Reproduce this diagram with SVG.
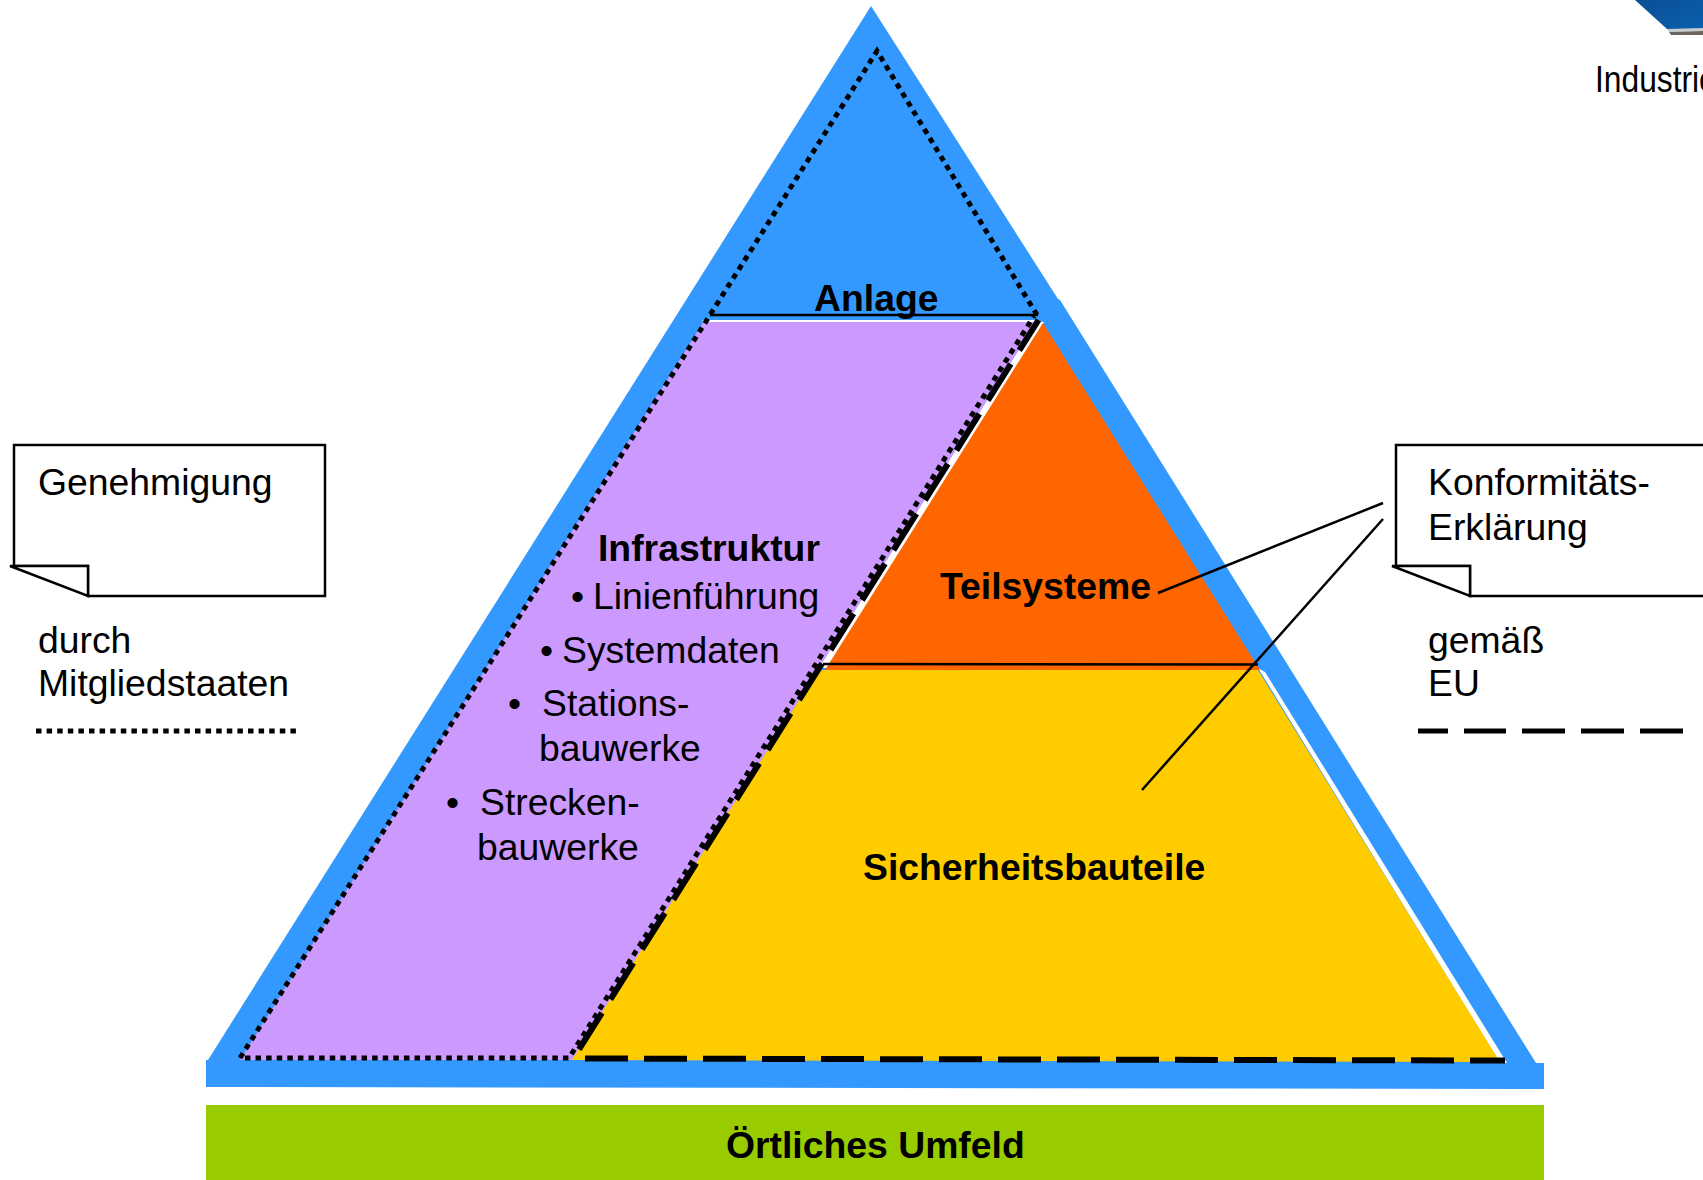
<svg xmlns="http://www.w3.org/2000/svg" width="1703" height="1180" viewBox="0 0 1703 1180">
<style>
text{font-family:"Liberation Sans",Arial,Helvetica,sans-serif;font-size:37.35px;fill:#000}
.b{font-weight:bold}
.note{fill:#fff;stroke:#000;stroke-width:2.5;stroke-linejoin:miter}
.thin{fill:none;stroke:#000;stroke-width:2.5}
.dot{fill:none;stroke:#000;stroke-width:5;stroke-dasharray:5.5 5.1}
.dash{fill:none;stroke:#000;stroke-width:6;stroke-dasharray:43 16}
</style>
<defs>
<linearGradient id="logoBlue" x1="0" y1="0" x2="1" y2="1"><stop offset="0" stop-color="#0a4f96"/><stop offset="1" stop-color="#0b5fae"/></linearGradient>
</defs>
<rect width="1703" height="1180" fill="#fff"/>

<g id="logo">
<polygon points="1635,0 1703,0 1703,29 1667,29" fill="url(#logoBlue)"/>
<polygon points="1667,29 1703,28 1703,31 1669,32" fill="#c8ccd2"/>
<polygon points="1669,32 1703,31 1703,35 1671,35" fill="#6a655e"/>
<text transform="translate(1595,92) scale(.85,1)">Industrie</text>
</g>

<g id="pyramid-frame">
<polygon points="871,6 1058,299 1060,300 1536,1063 1544,1063 1544,1089 206,1087 206,1060 208,1060" fill="#3399ff"/>
</g>

<g id="anlage">
<text class="b" x="814" y="311">Anlage</text>
</g>

<g id="infrastruktur">
<polygon points="704,321 1037,321 573,1060 240,1060" fill="#cc99ff"/>
<polygon points="703,320 1040,320 1037,322 702,322" fill="#fff"/>
<text class="b" x="598" y="561">Infrastruktur</text>
<text x="571" y="609">•</text><text x="593" y="609">Linienführung</text>
<text x="540" y="663">•</text><text x="562" y="663">Systemdaten</text>
<text x="508" y="716">•</text><text x="542" y="716">Stations-</text>
<text x="539" y="761">bauwerke</text>
<text x="446" y="815">•</text><text x="480" y="815">Strecken-</text>
<text x="477" y="860">bauwerke</text>
</g>

<g id="gap">
<polygon points="1037,321 1044,322 828,668 819,668" fill="#fff"/>
<polygon points="1258,668 1265,672 1507,1063 1500,1063" fill="#fff"/>
</g>

<g id="teilsysteme">
<polygon points="1043,323 1260,670 825,670" fill="#ff6600"/>
<text class="b" x="940" y="599">Teilsysteme</text>
</g>

<g id="sicherheitsbauteile">
<polygon points="818,670 1258,670 1500,1062 572,1060" fill="#ffcc00"/>
<text class="b" x="863" y="880">Sicherheitsbauteile</text>
</g>

<g id="umfeld">
<rect x="206" y="1105" width="1338" height="75" fill="#99cc00"/>
<text class="b" x="726" y="1158">Örtliches Umfeld</text>
</g>

<g id="connectors">
<line class="thin" x1="710" y1="315" x2="1038" y2="315"/>
<line class="thin" x1="823" y1="664" x2="1258" y2="664.5"/>
<path class="dot" d="M1037,315 L877,51 L240,1058 L569,1058 L1034,316"/>
<line class="dash" style="stroke-dashoffset:7" x1="1038.5" y1="320" x2="573.5" y2="1058"/>
<line class="dash" x1="585" y1="1058.5" x2="1505" y2="1060.5"/>
<line class="thin" x1="1158" y1="593" x2="1383" y2="503"/>
<line class="thin" x1="1142" y1="790" x2="1383" y2="519"/>
</g>

<g id="note-genehmigung">
<path class="note" d="M14,445 H325 V596 H88 V566 H14 Z"/>
<path class="note" d="M10,566 H88 V596 Z"/>
<text x="38" y="495">Genehmigung</text>
<text x="38" y="653">durch</text>
<text x="38" y="696">Mitgliedstaaten</text>
<line class="dot" x1="36" y1="731" x2="298" y2="731"/>
</g>

<g id="note-konformitaet">
<path class="note" d="M1396,445 H1710 V596 H1470 V566 H1396 Z"/>
<path class="note" d="M1392,566 H1470 V596 Z"/>
<text x="1428" y="495">Konformitäts-</text>
<text x="1428" y="540">Erklärung</text>
<text x="1428" y="653">gemäß</text>
<text x="1428" y="696">EU</text>
<path class="dash" style="stroke-dasharray:none;stroke-width:5" d="M1418,731 H1448 M1464,731 H1506 M1522,731 H1565 M1581,731 H1624 M1640,731 H1683"/>
</g>
</svg>
